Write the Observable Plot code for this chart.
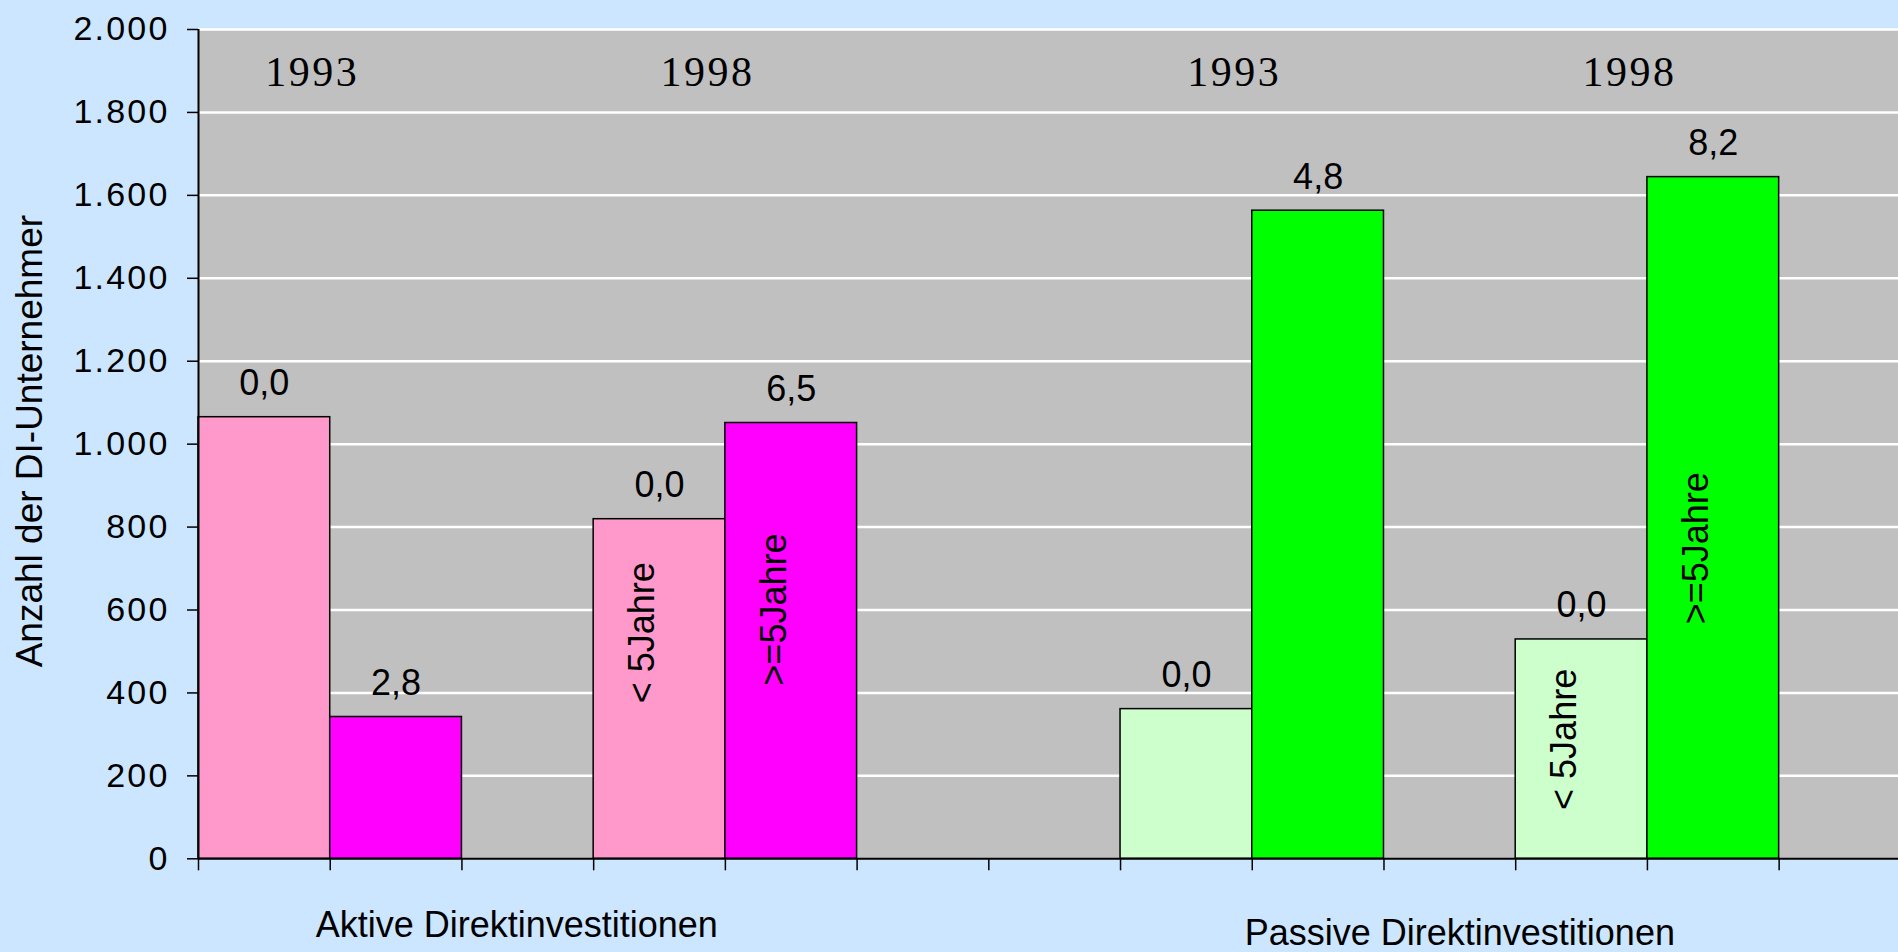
<!DOCTYPE html>
<html>
<head>
<meta charset="utf-8">
<script src="https://cdn.jsdelivr.net/npm/d3@7"></script>
<script src="https://cdn.jsdelivr.net/npm/@observablehq/plot@0.6"></script>
<style>
  html, body { margin: 0; padding: 0; background: #cce6ff; overflow: hidden; }
  #chart svg g[aria-label="y-axis tick label"] text { letter-spacing: 2.2px; }
  #chart svg g.years text { letter-spacing: 2.5px; }
</style>
</head>
<body>
<div id="chart"></div>
<script>
// Category slots of the (Excel-style) category axis, including empty gap slots
const categories = [
  "Aktiv|1993|< 5Jahre", "Aktiv|1993|>=5Jahre", "Lücke 1",
  "Aktiv|1998|< 5Jahre", "Aktiv|1998|>=5Jahre", "Lücke 2", "Lücke 3",
  "Passiv|1993|< 5Jahre", "Passiv|1993|>=5Jahre", "Lücke 4",
  "Passiv|1998|< 5Jahre", "Passiv|1998|>=5Jahre", "Lücke 5"
];
// Bars (Anzahl der DI-Unternehmer)
const barCategories = [
  "Aktiv|1993|< 5Jahre", "Aktiv|1993|>=5Jahre",
  "Aktiv|1998|< 5Jahre", "Aktiv|1998|>=5Jahre",
  "Passiv|1993|< 5Jahre", "Passiv|1993|>=5Jahre",
  "Passiv|1998|< 5Jahre", "Passiv|1998|>=5Jahre"
];
const barValues = [1065, 342, 819, 1051, 361, 1563, 529, 1644];
const barLabels = ["0,0", "2,8", "0,0", "6,5", "0,0", "4,8", "0,0", "8,2"];
const yearLabels = ["1993", "1998", "1993", "1998"];
const yearPairs = ["Aktiv|1993", "Aktiv|1998", "Passiv|1993", "Passiv|1998"];
const groupLabels = ["Aktive Direktinvestitionen", "Passive Direktinvestitionen"];
const groupKeys = ["Aktiv", "Passiv"];
const yTicks = [0, 200, 400, 600, 800, 1000, 1200, 1400, 1600, 1800, 2000];
const yTitle = "Anzahl der DI-Unternehmer";
const innerLabelCats = ["Aktiv|1998|< 5Jahre", "Aktiv|1998|>=5Jahre", "Passiv|1998|< 5Jahre", "Passiv|1998|>=5Jahre"];

const colors = {
  "Aktiv|< 5Jahre": "#ff99cc",
  "Aktiv|>=5Jahre": "#ff00ff",
  "Passiv|< 5Jahre": "#ccffcc",
  "Passiv|>=5Jahre": "#00ff00"
};

const table = barCategories.map((c, i) => {
  const [type, year, age] = c.split("|");
  return {cat: c, idx: categories.indexOf(c), value: barValues[i], label: barLabels[i], type, year, age};
});

// vertical centre of the rotated in-bar labels (in data units)
const innerLabelY = [545, 601, 288, 749];
const inner = innerLabelCats.map((c, i) => ({
  idx: categories.indexOf(c), text: c.split("|")[2], y: innerLabelY[i]
}));

const years = yearPairs.map((p, i) => ({
  idx: categories.indexOf(p + "|>=5Jahre"), text: yearLabels[i]
}));

const groups = groupKeys.map((g, i) => {
  const idxs = categories.map((c, j) => c.startsWith(g + "|") ? j : -1).filter(j => j >= 0);
  return {x: (d3.min(idxs) + d3.max(idxs) + 1) / 2, text: groupLabels[i]};
});

const W = 1898, H = 952;
const mLeft = 198, mTop = 29, mBottom = 93.7;
const bandPx = 131.72;
const sans = "'Liberation Sans', Arial, sans-serif";
const serif = "'Liberation Serif', 'Times New Roman', serif";
const fmt = d => d3.format(",")(d).replace(/,/g, ".");

const chart = Plot.plot({
  width: W,
  height: H,
  marginLeft: mLeft,
  marginRight: 0,
  marginTop: mTop,
  marginBottom: mBottom,
  style: {background: "#cce6ff", fontFamily: sans, color: "black"},
  x: {type: "linear", domain: [0, categories.length], range: [mLeft, mLeft + bandPx * categories.length]},
  y: {domain: [0, 2000]},
  color: {type: "identity"},
  marks: [
    Plot.frame({fill: "#c0c0c0", stroke: null}),
    Plot.ruleY(yTicks.filter(d => d > 0), {stroke: "white", strokeWidth: 2.5}),
    Plot.rectY(table, {
      x1: "idx", x2: d => d.idx + 1, y: "value",
      fill: d => colors[d.type + "|" + d.age],
      stroke: "black", strokeWidth: 1.5
    }),
    Plot.ruleY([0], {stroke: "black", strokeWidth: 2}),
    Plot.ruleX([0], {stroke: "black", strokeWidth: 2}),
    Plot.axisY({
      ticks: yTicks, tickSize: 11, tickPadding: 18, tickFormat: fmt,
      fontSize: 34, stroke: "black", strokeWidth: 1.5, fill: "black", label: null
    }),
    Plot.axisX({
      ticks: d3.range(0, categories.length + 1), tickSize: 12, tickFormat: () => "",
      stroke: "black", strokeWidth: 1.5, label: null
    }),
    Plot.text(table, {
      x: d => d.idx + 0.5, y: "value", text: "label",
      lineAnchor: "bottom", dy: -22, fontSize: 36, fill: "black"
    }),
    Plot.text(inner, {
      x: d => d.idx + 0.5, y: "y", text: "text",
      rotate: -90, dx: -17, fontSize: 36, fill: "black"
    }),
    Plot.text(years, {
      x: "idx", text: "text", frameAnchor: "top", dy: 43, dx: -18,
      fontSize: 42, fontFamily: serif, fill: "black", lineAnchor: "middle",
      className: "years"
    }),
    Plot.text(groups.slice(0, 1), {
      x: "x", text: "text", frameAnchor: "bottom", dy: 78, dx: -11,
      lineAnchor: "bottom", fontSize: 36, fill: "black"
    }),
    Plot.text(groups.slice(1), {
      x: "x", text: "text", frameAnchor: "bottom", dy: 86, dx: 10,
      lineAnchor: "bottom", fontSize: 36, fill: "black"
    }),
    Plot.text([yTitle], {
      frameAnchor: "left", textAnchor: "middle", dx: -168, dy: -3, rotate: -90,
      fontSize: 37, fill: "black"
    })
  ]
});
document.getElementById("chart").appendChild(chart);
</script>
</body>
</html>
